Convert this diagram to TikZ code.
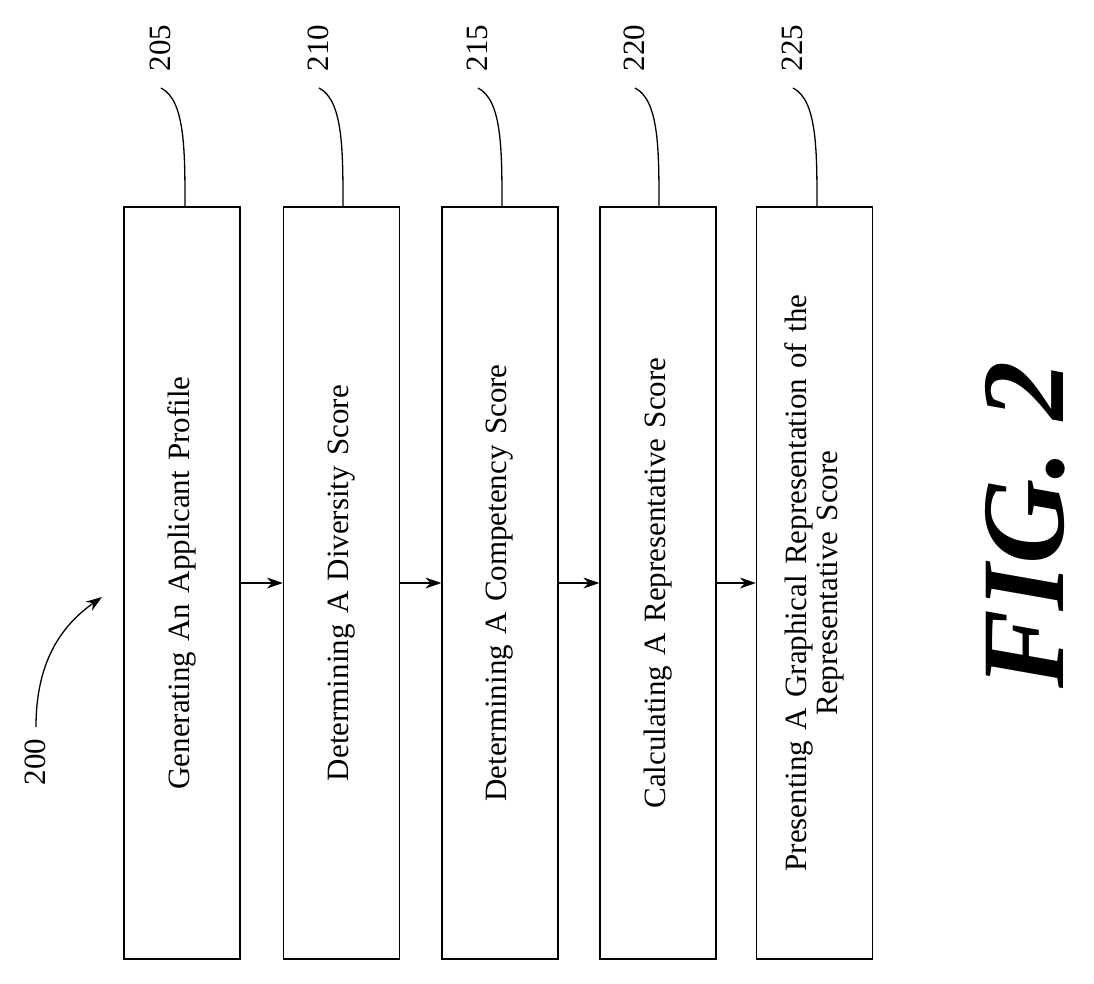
\documentclass[tikz,border=0pt]{standalone}
\usepackage{fontspec}
\setmainfont{Liberation Serif}
\usetikzlibrary{arrows.meta}
\begin{document}
\begin{tikzpicture}[x=1pt,y=-1pt,
  box/.style={draw,line width=1.3pt,minimum width=752pt,minimum height=116pt,rotate=90,inner sep=0pt,font=\fontsize{31}{31}\selectfont,align=center,text width=720pt},
  num/.style={rotate=90,font=\fontsize{31}{32}\selectfont,anchor=center},
  arr/.style={-{Stealth[length=16pt,width=11pt]},line width=1.3pt},
  lead/.style={line width=1.3pt}]
\useasboundingbox (0,0) rectangle (1094,983);
\node[box] (b1) at (182,583) {Generating An Applicant Profile};
\node[box] (b2) at (341.5,583) {Determining A Diversity Score};
\node[box] (b3) at (500,583) {Determining A Competency Score};
\node[box] (b4) at (658,583) {Calculating A Representative Score};
\node[box] (b5) at (814.5,583) {Presenting A Graphical Representation of the\\Representative Score};
\draw[arr] (b1.south) -- (b2.north);
\draw[arr] (b2.south) -- (b3.north);
\draw[arr] (b3.south) -- (b4.north);
\draw[arr] (b4.south) -- (b5.north);
\foreach \n/\x in {205/160,210/318,215/477,220/634,225/792}{
  \node[num] (l\n) at (\x,48) {\n};
  \coordinate (c\n) at (\x+25,207);
  \draw[lead] (\x+1,88) .. controls (\x+25,100) and (\x+25,150) .. (c\n);
}
\node[num] (l200) at (35,762) {200};
\coordinate (t200) at (102,597);
\draw[arr] (36,727) .. controls (36,670) and (55,630) .. (t200);
\node[rotate=90,font=\fontsize{118}{118}\selectfont\bfseries\itshape] (fig) at (1025,525) {FIG. 2};
\end{tikzpicture}
\end{document}
